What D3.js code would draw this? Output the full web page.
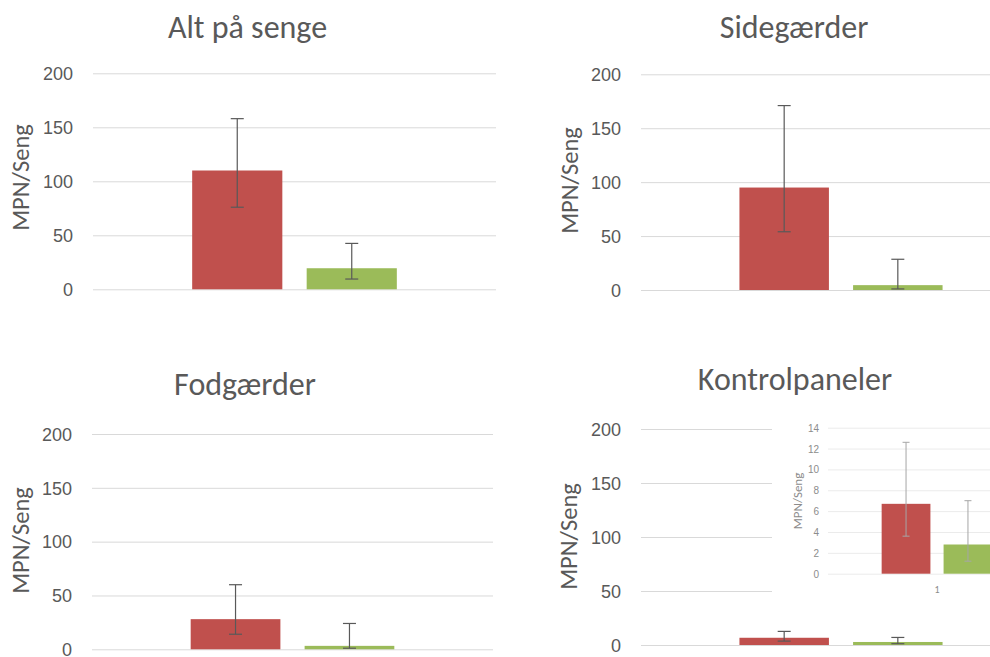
<!DOCTYPE html>
<html>
<head>
<meta charset="utf-8">
<script src="https://cdn.jsdelivr.net/npm/d3@7"></script>
<style>
  html, body { margin: 0; padding: 0; background: #fff; }
  svg { display: block; font-family: Calibri, Carlito, Lato, sans-serif; }
</style>
</head>
<body>
<svg id="chart" width="990" height="657"></svg>
<script>
// ---- data ----
const categories = ["1"];
const seriesNames = ["Serie 1", "Serie 2"];
const panelTitles = ["Alt på senge", "Sidegærder", "Fodgærder", "Kontrolpaneler"];
const axisTitle = "MPN/Seng";

// mean and error range per panel (MPN per bed)
const redValues  = [110, 95, 28, 6.7];
const redLow     = [76, 54, 14, 3.6];
const redHigh    = [158, 171, 60, 12.6];
const greenValues = [19.5, 4.5, 3.2, 2.8];
const greenLow    = [9.5, 1, 1, 1.2];
const greenHigh   = [42.5, 28.5, 24, 7.0];

const yTicks = [0, 50, 100, 150, 200];
const insetTicks = [0, 2, 4, 6, 8, 10, 12, 14];

// ---- layout ----
const colors = ["#C0504D", "#9BBB59"];
const panels = [
  {x0: 93,  x1: 496,  yTop: 73.3, yBase: 289.3, titleX: 247.5, titleY: 38,  labelX: 29,  labelY: 177.5},
  {x0: 641, x1: 1041, yTop: 74.3, yBase: 290,   titleX: 794,   titleY: 38,  labelX: 578, labelY: 180.5},
  {x0: 92,  x1: 493,  yTop: 434,  yBase: 649.3, titleX: 245,   titleY: 395, labelX: 28.5, labelY: 540.5},
  {x0: 641, x1: 1041, yTop: 429,  yBase: 645,   titleX: 795,   titleY: 390, labelX: 577, labelY: 536.5}
];
const inset = {x0: 828, x1: 1046, yTop: 427.7, yBase: 573.7, labelX: 802, labelY: 501,
               coverX: 772, coverY: 400, coverW: 220, coverH: 207};

const svg = d3.select("#chart");

function seriesRows(i) {
  return [
    {name: seriesNames[0], value: redValues[i], lo: redLow[i], hi: redHigh[i], color: colors[0]},
    {name: seriesNames[1], value: greenValues[i], lo: greenLow[i], hi: greenHigh[i], color: colors[1]}
  ];
}

function drawBars(g, i, lay, yDomain, ticks, st) {
  const y = d3.scaleLinear().domain(yDomain).range([lay.yBase, lay.yTop]);
  const x0 = d3.scaleBand().domain(categories).range([lay.x0, lay.x1])
    .paddingInner(0).paddingOuter(0.4846);
  const x1 = d3.scaleBand().domain(seriesNames).range([0, x0.bandwidth()])
    .paddingInner(0.2126).paddingOuter(0);

  // gridlines + tick labels
  const axis = d3.axisLeft(y).tickValues(ticks)
    .tickSize(-(lay.x1 - lay.x0)).tickPadding(st.tickPad).tickFormat(d3.format("d"));
  const ag = g.append("g").attr("transform", `translate(${lay.x0},0)`).call(axis);
  ag.select(".domain").remove();
  ag.selectAll(".tick line").attr("stroke", st.grid).attr("stroke-width", 1);
  ag.selectAll(".tick text").attr("fill", st.tickColor).attr("font-size", st.tickSize)
    .attr("dy", "0.35em");

  const rows = seriesRows(i);
  const cg = g.append("g").attr("transform", `translate(${x0(categories[0])},0)`);
  cg.selectAll("rect.bar").data(rows).join("rect")
    .attr("class", "bar")
    .attr("x", d => x1(d.name))
    .attr("width", x1.bandwidth())
    .attr("y", d => y(d.value))
    .attr("height", d => y(0) - y(d.value))
    .attr("fill", d => d.color);

  const eb = cg.selectAll("g.err").data(rows).join("g").attr("class", "err")
    .attr("stroke", st.errColor).attr("stroke-width", st.errWidth);
  const cx = d => x1(d.name) + x1.bandwidth() / 2;
  eb.append("line").attr("x1", cx).attr("x2", cx)
    .attr("y1", d => y(d.lo)).attr("y2", d => y(d.hi));
  eb.append("line").attr("x1", d => cx(d) - st.cap).attr("x2", d => cx(d) + st.cap)
    .attr("y1", d => y(d.hi)).attr("y2", d => y(d.hi));
  eb.append("line").attr("x1", d => cx(d) - st.cap).attr("x2", d => cx(d) + st.cap)
    .attr("y1", d => y(d.lo)).attr("y2", d => y(d.lo));

  g.append("text")
    .attr("transform", `translate(${lay.labelX},${lay.labelY}) rotate(-90)`)
    .attr("text-anchor", "middle")
    .attr("fill", st.tickColor)
    .attr("font-size", st.labelSize)
    .text(axisTitle);

  return {x0, y};
}

const mainStyle = {grid: "#D9D9D9", tickColor: "#595959", tickSize: 18, tickPad: 20,
                   errColor: "#595959", errWidth: 1.2, cap: 6.5, labelSize: 24.5};
const insetStyle = {grid: "#EBEBEB", tickColor: "#8C8C8C", tickSize: 10, tickPad: 9,
                    errColor: "#A6A6A6", errWidth: 1, cap: 3.5, labelSize: 13};

panels.forEach((lay, i) => {
  const g = svg.append("g");
  g.append("text")
    .attr("x", lay.titleX).attr("y", lay.titleY)
    .attr("text-anchor", "middle")
    .attr("fill", "#595959")
    .attr("font-size", 32)
    .text(panelTitles[i]);
  drawBars(g, i, lay, [0, 200], yTicks, mainStyle);
});

// zoomed view of the control panel values
const ig = svg.append("g");
ig.append("rect").attr("x", inset.coverX).attr("y", inset.coverY)
  .attr("width", inset.coverW).attr("height", inset.coverH).attr("fill", "#fff");
const sc = drawBars(ig, 3, inset, [0, 14], insetTicks, insetStyle);
ig.append("text")
  .attr("x", sc.x0(categories[0]) + sc.x0.bandwidth() / 2)
  .attr("y", inset.yBase + 19)
  .attr("text-anchor", "middle")
  .attr("fill", insetStyle.tickColor)
  .attr("font-size", 10)
  .text(categories[0]);
</script>
</body>
</html>
